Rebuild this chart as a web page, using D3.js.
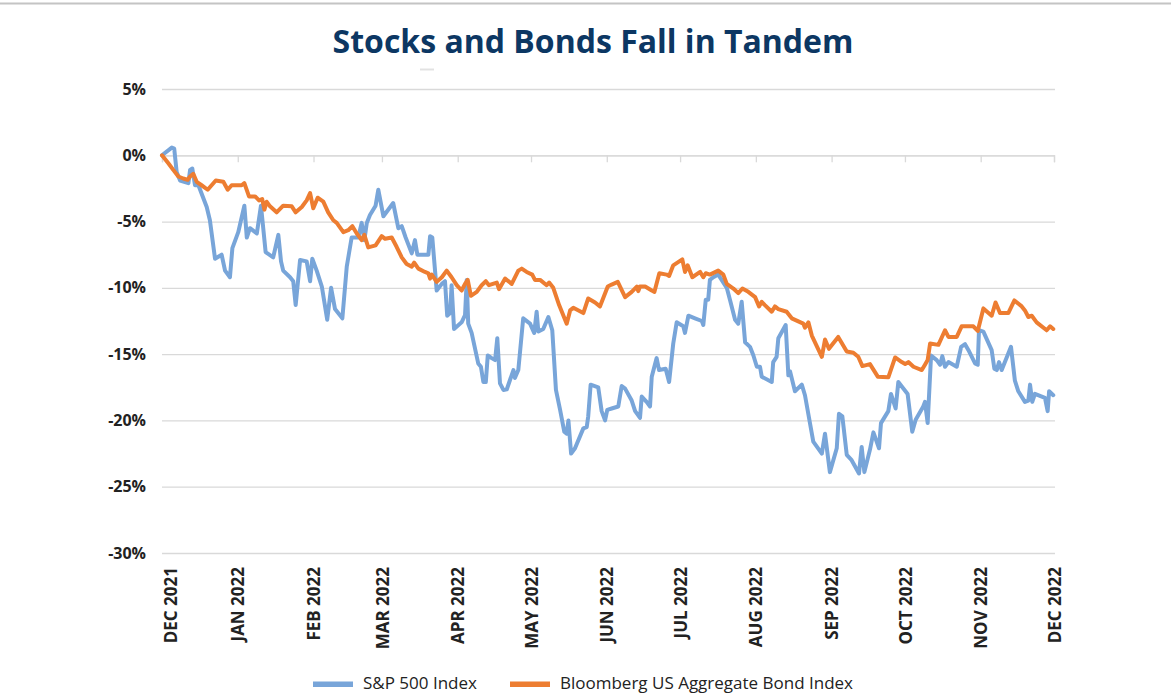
<!DOCTYPE html>
<html><head><meta charset="utf-8">
<script src="https://cdn.jsdelivr.net/npm/d3@7"></script>
<style>
body{margin:0;background:#fff}
svg{display:block;font-family:"Open Sans",sans-serif}
</style>
</head><body>
<svg id="chart" width="1171" height="696"></svg>
<script>
// ---- data ----
const chartTitle = "Stocks and Bonds Fall in Tandem";
const seriesNames = ["S&P 500 Index", "Bloomberg US Aggregate Bond Index"];
const monthLabels = ["DEC 2021","JAN 2022","FEB 2022","MAR 2022","APR 2022","MAY 2022","JUN 2022","JUL 2022","AUG 2022","SEP 2022","OCT 2022","NOV 2022","DEC 2022"];
// days since Dec 1, 2021 at each month start
const monthDays = [0,31,62,90,121,151,182,212,243,274,304,335,365];
const yTicks = [5,0,-5,-10,-15,-20,-25,-30];

// S&P 500 cumulative return (%), by day since Dec 1, 2021
const spDays = [0,4,5,6,7.4,10.8,11.5,12.4,13.5,14.9,18.3,19.6,21.7,24.4,25.8,27.8,28.8,31.2,33.7,34.7,36,38.8,40.5,42.4,45.5,47.6,48.7,49.6,52.4,53.7,54.7,56.5,59.2,60.6,61.5,63.3,65.4,67.6,69.2,70.8,73.8,75.6,77.6,80.3,81.7,82.8,83.8,85.1,87.4,88.5,90.6,94.6,96.7,98.1,99.7,102.2,103.5,104.5,109,109.7,110.6,112.4,114.5,115.8,116.7,117.9,118.5,119.5,122.6,124,124.7,125.3,126.7,129.4,130.5,131.5,132.5,133.3,134.9,136.3,137.2,138.3,139.7,141.1,143.8,144.4,145.8,147.8,150.6,152.3,153.3,154,156,158.1,159.7,161.2,162.9,164.6,165.6,166.3,167.4,169,172.4,173.8,174.4,175.4,178.5,179.9,181.3,182.2,184,186.7,188.1,189.5,192.2,193.6,195.6,196.3,198.3,199.7,200.4,202.4,203.4,206.1,207.5,209.2,210.6,213.3,214,215.4,218.1,220.9,221.5,222.5,223.5,224.2,225.6,227.6,229,231.1,232.4,234.5,235.8,237.2,238.6,240.6,242,243.4,244.7,245.4,249.5,250.1,251.5,252.2,255.2,256.3,257,259,261.8,263.1,266.5,270,271.3,273.3,276.1,277,278.4,280.2,282.2,285.2,286.3,287.4,289.7,291.1,293.4,294.2,297.2,298.3,300.2,301.3,305.1,307,308.4,311.5,312.2,313.3,314.7,317,318.4,319.3,320.4,321.8,325.2,327,328.6,330,332.7,333.8,334.3,336.1,339.5,340.6,341.6,342.5,343.6,347.4,349,350.4,353.1,354.5,355.2,356.1,357.2,361.3,362.4,363,364.7];
const spValues = [0,0.58,0.5,-1.26,-1.9,-2.1,-1.1,-1.0,-2.26,-2.26,-3.9,-4.9,-7.8,-7.5,-8.7,-9.2,-7.0,-5.8,-3.8,-6.2,-5.5,-5.9,-3.8,-7.3,-7.7,-6.0,-8.0,-8.7,-9.2,-9.5,-11.3,-7.9,-8.0,-9.5,-7.8,-8.7,-9.9,-12.4,-10.0,-11.6,-12.3,-8.4,-6.2,-6.2,-5.1,-6.4,-5.1,-4.5,-3.8,-2.6,-4.6,-3.6,-5.5,-5.35,-6.2,-7.4,-6.4,-7.5,-7.5,-6.1,-6.2,-10.2,-9.7,-9.5,-12.1,-11.9,-9.8,-13.1,-12.6,-12.06,-9.4,-12.7,-13.4,-15.7,-15.95,-17.1,-17.1,-15.1,-15.3,-15.45,-13.8,-17.2,-17.7,-17.65,-16.2,-16.8,-16.2,-12.3,-12.7,-13.4,-11.8,-13.3,-13.1,-12.2,-13.2,-17.7,-19.2,-20.85,-21.0,-20.0,-22.5,-22.1,-20.6,-20.5,-19.7,-17.3,-17.5,-19.3,-20.0,-19.2,-19.1,-18.95,-17.4,-17.6,-18.5,-19.3,-19.8,-18.2,-18.6,-18.95,-16.7,-15.3,-16.2,-16.1,-17.1,-14.2,-12.6,-12.9,-13.4,-12.1,-12.3,-12.5,-12.8,-10.9,-10.9,-9.4,-9.2,-9.0,-9.4,-10.0,-10.9,-12.4,-12.7,-11.05,-14.1,-14.45,-15.1,-15.95,-15.95,-16.7,-17.1,-15.6,-15.2,-13.8,-12.8,-16.6,-16.3,-17.8,-17.3,-18.1,-21.6,-22.5,-21.0,-23.9,-22.1,-19.5,-19.7,-22.6,-23.0,-24.0,-22.0,-23.9,-22.2,-20.9,-22.1,-20.2,-19.3,-18.0,-19.1,-17.1,-18.0,-20.85,-19.95,-18.95,-18.6,-20.2,-15.1,-15.45,-15.8,-15.15,-15.95,-15.6,-15.95,-14.45,-14.25,-14.7,-15.7,-15.8,-13.2,-13.3,-14.7,-16.1,-16.2,-15.6,-16.2,-14.45,-17.0,-17.8,-18.6,-18.5,-17.3,-18.6,-18.0,-18.3,-19.3,-17.8,-18.1];

// Bloomberg US Aggregate Bond Index cumulative return (%)
const bondDays = [0,2.6,4.6,6.7,8.7,10.5,11.5,12.8,14.2,16.2,18.7,20.3,22.0,25.1,26.9,28.5,32.6,33.7,35.6,38.1,39.7,41.0,41.9,42.8,44.2,46.9,49.6,53.1,54.7,57.2,59.2,60.6,61.9,63.7,66.0,68.0,70.1,71.5,74.2,76.2,77.9,79.7,81.7,82.8,84.4,87.4,89.9,91.3,94.0,96.0,98.1,100.1,102.2,103.2,104.9,107.6,109.0,109.7,110.4,112.4,114.5,116.5,118.5,120.6,122.6,124.0,125.1,126.4,128.8,130.8,132.5,133.8,137.0,137.9,140.4,143.1,145.8,147.2,149.2,151.5,152.6,154.7,157.4,158.4,160.1,162.5,165.6,167.0,168.3,172.4,174.4,177.2,179.2,182.4,184.0,186.5,189.5,192.2,194.3,194.9,195.6,197.7,200.4,201.5,203.5,206.5,207.5,209.2,212.9,214.0,215.1,217.0,220.2,221.5,222.5,224.2,227.6,229.7,231.1,233.8,235.8,237.5,239.9,242.7,244.3,245.4,246.7,249.5,250.8,252.2,255.6,257.7,262.4,263.1,264.5,265.9,270.0,271.3,272.9,276.7,280.2,282.9,284.9,286.6,289.7,292.9,297.2,300.0,302.7,304.1,305.4,307.5,310.9,312.2,313.3,314.3,317.7,320.4,321.8,325.2,327.2,332.0,333.8,336.1,339.5,341.1,342.9,346.3,348.8,351.8,353.1,354.5,355.9,357.9,362.0,363.4,364.7];
const bondValues = [0,-0.6,-1.1,-1.6,-1.75,-1.85,-1.6,-1.4,-2.0,-2.26,-2.6,-2.26,-1.9,-2.0,-2.6,-2.26,-2.26,-2.1,-3.1,-3.1,-3.4,-3.3,-4.1,-3.5,-3.85,-4.3,-3.8,-3.85,-4.3,-3.9,-3.4,-2.85,-4.0,-3.2,-3.5,-4.3,-4.9,-5.1,-5.8,-5.65,-5.35,-5.9,-6.4,-6.0,-6.95,-6.8,-6.1,-6.3,-6.2,-6.9,-7.7,-8.2,-8.4,-8.1,-8.55,-8.8,-8.9,-9.3,-9.0,-9.55,-9.2,-8.7,-9.2,-9.8,-10.2,-9.7,-9.4,-10.6,-10.3,-9.8,-9.5,-9.8,-9.6,-10.1,-9.3,-9.7,-8.7,-8.55,-8.8,-9.0,-9.4,-9.4,-9.8,-9.6,-10.0,-11.3,-12.7,-11.7,-11.5,-11.9,-10.8,-11.1,-11.4,-9.9,-9.75,-9.55,-10.7,-10.3,-9.9,-10.25,-9.9,-9.9,-10.2,-10.3,-8.9,-9.0,-9.1,-8.3,-7.85,-8.8,-8.3,-9.2,-8.8,-9.2,-8.9,-9.0,-8.7,-9.0,-9.7,-10.05,-10.4,-10.05,-10.3,-10.7,-11.4,-11.05,-11.3,-11.8,-11.4,-11.6,-11.8,-12.3,-12.7,-13.0,-12.6,-13.6,-15.2,-13.9,-14.6,-13.7,-14.8,-14.9,-15.2,-15.9,-15.75,-16.7,-16.75,-15.25,-15.6,-15.75,-15.6,-15.95,-16.2,-15.8,-15.45,-14.2,-14.3,-13.2,-13.7,-13.7,-12.9,-12.9,-13.25,-11.55,-12.1,-11.1,-11.9,-11.9,-10.95,-11.4,-11.7,-12.2,-12.1,-12.6,-13.2,-12.9,-13.1];

const seriesColors = ["#78a5d9", "#ed7d31"];

// ---- drawing ----
const svg = d3.select("#chart");
const plotLeft = 162, plotRight = 1055, plotTop = 89, plotBottom = 553;

const x = d3.scaleLinear().domain([0, 365]).range([plotLeft, 1054]);
const y = d3.scaleLinear().domain([-30, 5]).range([plotBottom, plotTop]);

// top rule
svg.append("line").attr("x1", 0).attr("x2", 1171).attr("y1", 3.5).attr("y2", 3.5)
  .attr("stroke", "#c4c4c4").attr("stroke-width", 2);
svg.append("line").attr("x1", 420).attr("x2", 434).attr("y1", 69.5).attr("y2", 69.5)
  .attr("stroke", "#e2e2e2").attr("stroke-width", 2);

// title
svg.append("text").attr("x", 593).attr("y", 53).attr("text-anchor", "middle")
  .attr("font-size", 32).attr("font-weight", 700).attr("fill", "#0c3763")
  .text(chartTitle);

// y axis with gridlines
const yAxis = svg.append("g").attr("transform", `translate(${plotLeft},0)`)
  .call(d3.axisLeft(y).tickValues(yTicks).tickSize(-(plotRight - plotLeft)).tickPadding(16)
    .tickFormat(d => d + "%"));
yAxis.select(".domain").remove();
yAxis.selectAll(".tick line").attr("stroke", "#d9d9d9").attr("stroke-width", 1.3);
yAxis.selectAll(".tick text").attr("font-size", 16).attr("font-weight", 700)
  .attr("fill", "#222").attr("font-family", "'Open Sans', sans-serif");

// x axis line at 0% with month ticks
const xAxis = svg.append("g").attr("transform", `translate(0,${y(0)})`)
  .call(d3.axisBottom(x).tickValues(monthDays).tickSize(7).tickFormat(""));
xAxis.select(".domain").attr("stroke", "#d9d9d9").attr("stroke-width", 1.3);
xAxis.selectAll(".tick line").attr("stroke", "#d9d9d9").attr("stroke-width", 1.3);

// month labels at bottom, rotated
const xLab = svg.append("g").attr("transform", `translate(0,${plotBottom})`)
  .call(d3.axisBottom(x).tickValues(monthDays).tickSize(0)
    .tickFormat((d, i) => monthLabels[i]));
xLab.select(".domain").remove();
xLab.selectAll(".tick text")
  .attr("transform", "rotate(-90)")
  .attr("text-anchor", "end")
  .attr("x", -14)
  .attr("y", (d, i) => i === 0 ? 8 : 0)
  .attr("dy", "0.36em")
  .attr("font-size", 17).attr("font-weight", 700).attr("fill", "#222")
  .attr("font-family", "'Open Sans', sans-serif");

// lines
const line = d3.line().x(d => x(d[0])).y(d => y(d[1]));
const series = [d3.zip(spDays, spValues), d3.zip(bondDays, bondValues)];
svg.append("g").selectAll("path").data(series).join("path")
  .attr("d", line)
  .attr("fill", "none")
  .attr("stroke", (d, i) => seriesColors[i])
  .attr("stroke-width", 4)
  .attr("stroke-linejoin", "round")
  .attr("stroke-linecap", "round");

// legend
const legendX = [313, 510];
const lg = svg.append("g").selectAll("g").data(seriesNames).join("g")
  .attr("transform", (d, i) => `translate(${legendX[i]},0)`);
lg.append("rect").attr("x", 0).attr("y", 681.5).attr("width", 40).attr("height", 5.5)
  .attr("fill", (d, i) => seriesColors[i]);
lg.append("text").attr("x", 50).attr("y", 689).attr("font-size", 17)
  .attr("fill", "#222").text(d => d);
</script>
</body></html>
